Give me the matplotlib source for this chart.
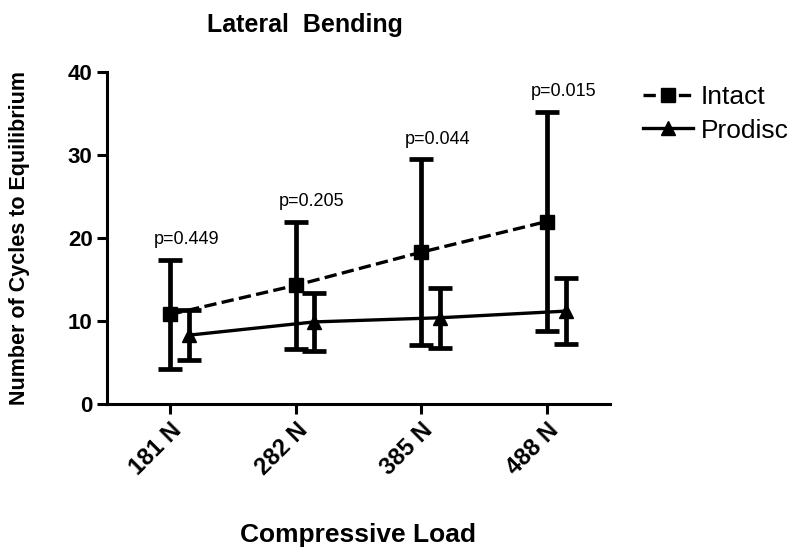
import numpy as np
import matplotlib.pyplot as plt

plt.rcParams['font.family'] = ['Liberation Sans', 'DejaVu Sans']

loads = ['181 N', '282 N', '385 N', '488 N']
intact_mean = [10.8, 14.3, 18.3, 22.0]
intact_err = [6.6, 7.7, 11.2, 13.2]
prodisc_mean = [8.3, 9.9, 10.4, 11.2]
prodisc_err = [3.0, 3.45, 3.6, 3.95]
p_values = ['p=0.449', 'p=0.205', 'p=0.044', 'p=0.015']

x = np.arange(len(loads))
shift = 0.15

fig = plt.figure(figsize=(8, 5.55), dpi=100)
ax = fig.add_axes([0.134, 0.272, 0.628, 0.598])

e1 = ax.errorbar(x, intact_mean, yerr=intact_err, color='black', ls='--', lw=2.4,
                 marker='s', ms=10, elinewidth=3.4, capsize=8.5, capthick=3.4)
e2 = ax.errorbar(x + shift, prodisc_mean, yerr=prodisc_err, color='black', ls='-', lw=2.4,
                 marker='^', ms=10, elinewidth=3.4, capsize=8.5, capthick=3.4)

# p-value labels above the intact bars
for i in range(len(loads)):
    top = intact_mean[i] + intact_err[i]
    ax.text(x[i] + 0.13, top + 1.4, p_values[i], ha='center', va='bottom', fontsize=13)

ax.set_xlim(-0.5, 3.5)
ax.set_ylim(0, 40)
ax.set_yticks([0, 10, 20, 30, 40])
ax.set_xticks(x)
ax.set_xticklabels(loads, rotation=45, ha='right', rotation_mode='anchor',
                   fontsize=17, fontweight='bold')
for t in ax.get_yticklabels():
    t.set_fontsize(16)
    t.set_fontweight('bold')

ax.spines['top'].set_visible(False)
ax.spines['right'].set_visible(False)
ax.spines['left'].set_linewidth(2.2)
ax.spines['bottom'].set_linewidth(2.2)
ax.tick_params(width=2.2, length=7, direction='out')

ax.set_title('Lateral  Bending', fontsize=18, fontweight='bold', pad=29, x=0.394)
ax.set_xlabel('Compressive Load', fontsize=19, fontweight='bold', labelpad=31)
ax.set_ylabel('Number of Cycles to Equilibrium', fontsize=15.5, fontweight='bold', labelpad=27)

ax.legend([e1.lines[0], e2.lines[0]], ['Intact', 'Prodisc'], loc='upper left',
          bbox_to_anchor=(1.066, 0.96), frameon=False, fontsize=19,
          borderaxespad=0, borderpad=0,
          handlelength=1.9, handletextpad=0.3, labelspacing=0.35)

fig.savefig('out.png', dpi=100)
